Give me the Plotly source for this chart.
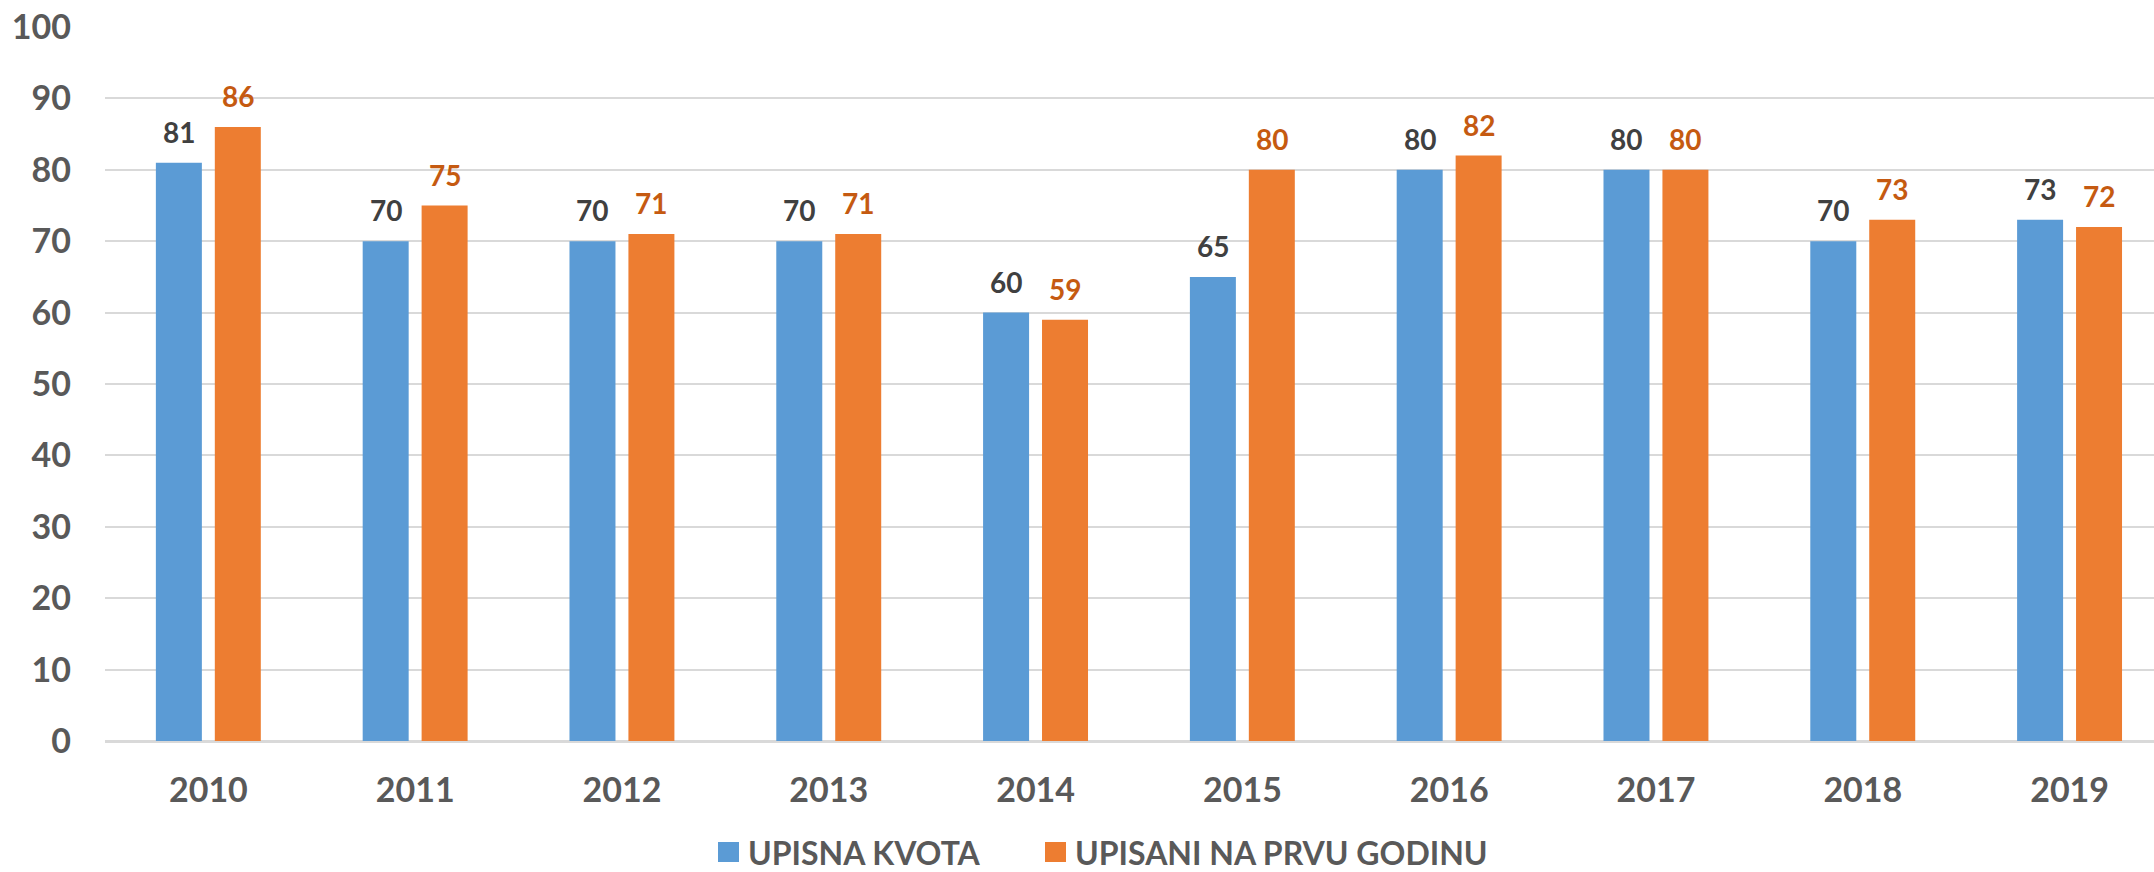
import plotly.graph_objects as go

years = ["2010", "2011", "2012", "2013", "2014", "2015", "2016", "2017", "2018", "2019"]
upisna_kvota = [81, 70, 70, 70, 60, 65, 80, 80, 70, 73]
upisani = [86, 75, 71, 71, 59, 80, 82, 80, 73, 72]
series_names = ["UPISNA KVOTA", "UPISANI NA PRVU GODINU"]
y_ticks = [0, 10, 20, 30, 40, 50, 60, 70, 80, 90, 100]

BLUE = "#5B9BD5"
ORANGE = "#ED7D31"
BLUE_LBL = "#404040"
ORANGE_LBL = "#C55A11"
GREY = "#595959"
FONT = "Lato"

x_idx = list(range(len(years)))
bar_w = 0.2224
offsets = [-0.254, 0.031]

fig = go.Figure()
series = [(series_names[0], upisna_kvota, BLUE, BLUE_LBL), (series_names[1], upisani, ORANGE, ORANGE_LBL)]
for (name, vals, col, lcol), off in zip(series, offsets):
    fig.add_trace(go.Bar(
        x=x_idx, y=vals, name=name, width=bar_w, offset=off,
        marker=dict(color=col, line=dict(width=0)), showlegend=False,
    ))
    for xi, v in zip(x_idx, vals):
        fig.add_annotation(
            x=xi + off + bar_w / 2, y=v, xref="x", yref="y", text=str(v),
            showarrow=False, yanchor="bottom", yshift=12,
            font=dict(family=FONT, size=28, color=lcol, weight="bold"),
        )

# custom legend
leg_y = 852
H = 872
W = 2154
leg_items = [(series_names[0], BLUE, 718), (series_names[1], ORANGE, 1045)]
for name, col, x0 in leg_items:
    fig.add_shape(type="rect", xref="paper", yref="paper",
                  x0=(x0 - 105) / (W - 105), x1=(x0 + 21 - 105) / (W - 105),
                  y0=-(leg_y - 10 - 741) / 714, y1=-(leg_y + 10 - 741) / 714,
                  fillcolor=col, line=dict(width=0))
    fig.add_annotation(xref="paper", yref="paper",
                       x=(x0 + 29 - 105) / (W - 105), y=-(leg_y - 741) / 714,
                       text=name, showarrow=False, xanchor="left", yanchor="middle",
                       height=28, valign="middle", borderpad=0,
                       font=dict(family=FONT, size=32, color=GREY, weight="bold"))

fig.update_layout(
    width=W, height=H,
    margin=dict(l=105, r=0, t=27, b=131),
    paper_bgcolor="white", plot_bgcolor="white",
    showlegend=False,
    xaxis=dict(
        range=[-0.5, 9.408], tickmode="array", tickvals=x_idx, ticktext=years,
        showgrid=False, zeroline=False, showline=False, ticks="",
        tickfont=dict(family=FONT, size=34, color=GREY, weight="bold"),
        ticklabelstandoff=26,
    ),
    yaxis=dict(
        range=[0, 100], tickmode="array", tickvals=y_ticks,
        showgrid=True, gridcolor="#D9D9D9", gridwidth=2,
        zeroline=True, zerolinecolor="#D9D9D9", zerolinewidth=3,
        showline=False, ticks="",
        tickfont=dict(family=FONT, size=34, color=GREY, weight="bold"),
        ticklabelstandoff=33,
    ),
)

fig.write_html("out.html", config={"displayModeBar": False},
               post_script="document.body.style.margin='0';document.body.style.overflow='hidden';")
